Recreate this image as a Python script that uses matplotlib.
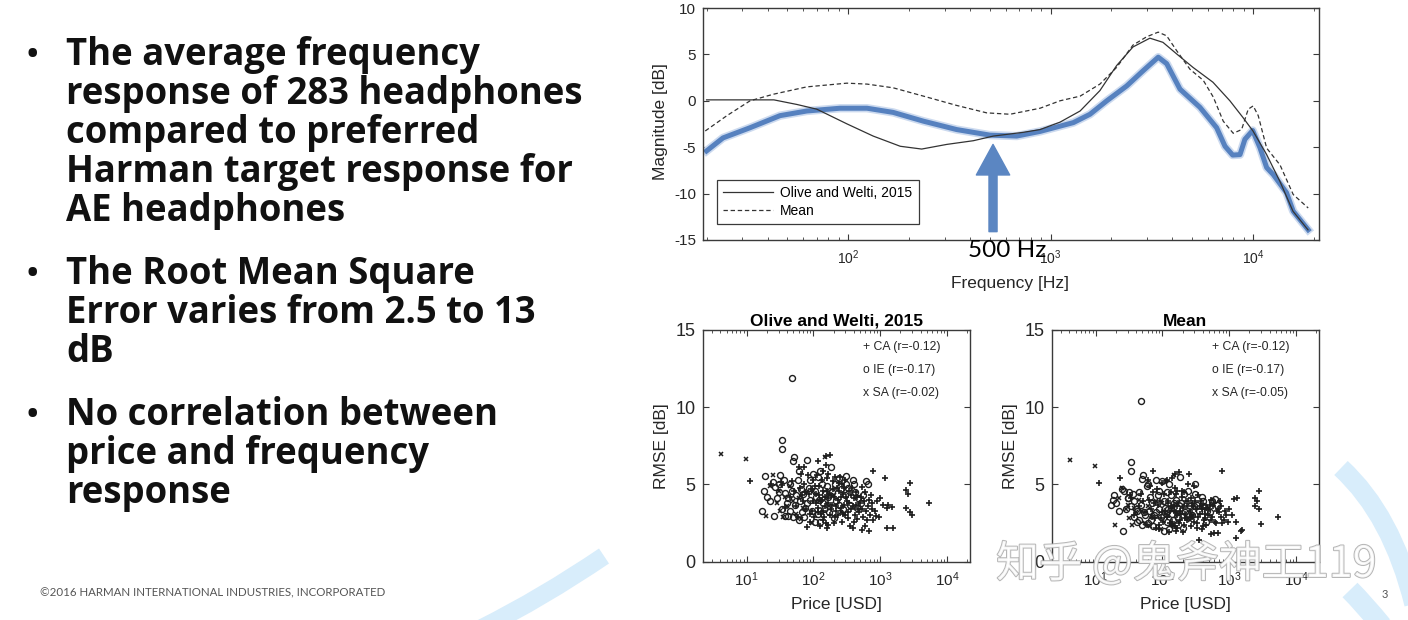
import numpy as np
import matplotlib
matplotlib.use('Agg')
import matplotlib.pyplot as plt
import matplotlib.patheffects as pe
from matplotlib.path import Path
from matplotlib.patches import PathPatch
from matplotlib.ticker import LogLocator, NullFormatter

plt.rcParams['font.family'] = ['Liberation Sans', 'DejaVu Sans']
plt.rcParams['mathtext.fontset'] = 'custom'
plt.rcParams['mathtext.rm'] = 'Liberation Sans'
plt.rcParams['mathtext.it'] = 'Liberation Sans:italic'
plt.rcParams['mathtext.bf'] = 'Liberation Sans:bold'
plt.rcParams['axes.unicode_minus'] = False

# ---- frequency responses (Hz, dB) ----
ow_freq = [20, 43, 56, 70, 99, 133, 181, 231, 307, 416, 522, 731, 888, 1114, 1400,
           1754, 2122, 2554, 3097, 3593, 4200, 5057, 6346, 7694, 8926, 10000, 11690,
           13600, 15770, 18700]
ow_db = [0.1, 0.1, -0.4, -0.9, -2.5, -3.8, -4.9, -5.2, -4.7, -4.3, -3.8, -3.4, -3.1,
         -2.3, -1.1, 1.1, 3.8, 5.8, 6.75, 6.3, 5.05, 3.6, 2.0, 0.0, -1.8, -3.25, -5.8,
         -8.7, -11.9, -13.9]

mean_freq = [19.7, 25.2, 32.8, 42.6, 62.5, 98.6, 124, 167, 236, 344, 484, 631, 888,
             1114, 1400, 1754, 2122, 2554, 2985, 3405, 3749, 4200, 4886, 5686, 6370,
             7134, 7993, 8790, 9480, 10030, 10620, 11690, 13600, 15810, 18750]
mean_db = [-3.25, -1.6, 0.0, 0.7, 1.5, 1.9, 1.8, 1.4, 0.5, -0.5, -1.3, -1.45, -0.8,
           0.0, 0.5, 1.8, 3.6, 6.0, 6.9, 7.4, 7.0, 5.4, 3.4, 2.2, 0.4, -2.2, -3.5,
           -3.1, -0.9, -0.55, -1.6, -5.1, -6.9, -10.1, -11.55]

avg_freq = [20, 24.1, 32.8, 46.1, 62.5, 91.3, 124, 167, 236, 344, 502, 681, 888, 1297,
            1567, 1897, 2379, 2871, 3405, 3749, 4363, 5470, 6617, 7278, 7940, 8630,
            9126, 9970, 10830, 11690, 12600, 14650, 15810, 18750]
avg_db = [-5.4, -4.0, -2.9, -1.6, -1.1, -0.8, -0.8, -1.25, -2.2, -3.1, -3.7, -3.8, -3.3,
          -2.35, -1.45, 0.0, 1.6, 3.25, 4.7, 4.0, 1.25, -0.7, -2.9, -4.9, -5.85, -5.8,
          -4.15, -3.2, -5.05, -7.2, -7.95, -9.9, -11.9, -13.9]

# ---- price vs RMSE, per headphone type (USD, dB vs Olive&Welti, dB vs Mean) ----
ca_price = [11.2, 23, 33, 34, 45, 55, 60, 62, 66, 70, 73, 75, 79, 85, 88, 90, 95, 100,
            105, 110, 115, 115, 120, 125, 130, 135, 140, 140, 141, 145, 150, 154, 154,
            161, 161, 165, 167, 167, 177, 180, 185, 195, 200, 210, 211, 220, 230, 240,
            245, 250, 260, 270, 280, 290, 300, 300, 320, 330, 340, 353, 360, 370, 395,
            400, 420, 430, 446, 446, 480, 500, 528, 528, 560, 594, 594, 620, 650, 667,
            700, 720, 760, 790, 791, 840, 870, 1000, 1110, 1185, 1250, 1250, 1320, 1490,
            1540, 2390, 2430, 2570, 2750, 2820, 2980, 5370,
            38, 48, 52, 58, 68, 72, 78, 82, 92, 98, 102, 108, 112, 118, 122, 128, 132,
            138, 148, 152, 158, 163, 172, 175, 190, 198, 205, 215, 225, 235, 255, 265,
            275, 285, 310, 325, 345, 375, 390, 410, 440, 460, 510, 540, 580, 630, 680,
            740, 880, 950]
ca_rmse_ow = [5.2, 5.0, 5.18, 4.95, 4.2, 3.6, 6.1, 4.8, 5.7, 3.9, 6.15, 4.5, 2.25, 4.4,
              3.1, 2.6, 3.3, 5.3, 4.9, 3.8, 6.5, 3.5, 4.3, 2.3, 3.1, 4.0, 4.6, 5.9, 2.7,
              2.9, 3.6, 6.85, 6.25, 5.4, 2.15, 4.1, 5.7, 2.4, 6.9, 3.4, 4.3, 4.7, 2.5,
              2.9, 5.5, 3.3, 4.0, 5.1, 4.6, 5.5, 3.5, 2.6, 4.4, 3.7, 3.0, 5.3, 3.9, 3.2,
              4.6, 2.3, 4.3, 3.4, 2.15, 4.1, 3.0, 3.7, 4.2, 2.75, 3.2, 3.8, 4.85, 2.05,
              2.9, 4.5, 2.3, 3.3, 3.6, 2.0, 3.0, 4.3, 3.8, 2.7, 5.85, 3.25, 2.95, 4.1,
              3.65, 5.4, 3.45, 2.15, 3.65, 3.55, 2.2, 3.5, 4.65, 4.4, 5.1, 3.2, 3.0, 3.82,
              3.5, 5.2, 4.6, 2.9, 4.3, 5.0, 3.4, 5.6, 4.7, 3.9, 2.9, 4.4, 5.6, 3.2, 4.9,
              3.9, 5.3, 3.3, 4.2, 2.5, 4.6, 3.8, 4.4, 3.0, 3.7, 5.2, 4.2, 3.6, 4.8, 3.0,
              4.2, 5.0, 3.1, 4.8, 4.2, 2.8, 3.8, 4.8, 3.6, 2.6, 4.5, 3.4, 4.2, 3.4, 3.9,
              2.7, 4.0, 3.4, 3.9, 2.9]
ca_rmse_mean = [5.07, 5.45, 4.3, 4.1, 3.6, 3.2, 5.3, 4.0, 4.9, 2.9, 5.9, 3.8, 2.15, 3.7,
                2.4, 2.1, 2.8, 5.1, 4.4, 3.1, 5.3, 2.9, 3.9, 1.9, 2.5, 3.6, 3.5, 5.4,
                2.6, 2.3, 3.3, 5.7, 4.8, 4.4, 2.0, 3.0, 4.6, 2.2, 5.8, 2.7, 3.3, 4.2,
                1.9, 2.4, 4.5, 3.1, 3.6, 5.0, 3.9, 5.7, 2.9, 2.3, 3.8, 3.0, 2.6, 4.9,
                3.4, 2.2, 4.3, 1.4, 3.6, 3.1, 2.1, 3.7, 2.7, 2.8, 3.5, 2.4, 3.0, 3.4,
                4.0, 1.8, 2.9, 3.8, 1.85, 2.6, 3.3, 1.85, 3.2, 3.9, 3.6, 2.5, 5.85, 2.7,
                3.3, 3.4, 3.0, 4.05, 2.6, 1.55, 4.15, 2.0, 2.05, 3.6, 4.1, 3.95, 4.55,
                3.4, 2.45, 2.9,
                3.0, 4.4, 3.9, 2.4, 3.4, 4.5, 2.8, 4.7, 3.9, 3.2, 2.6, 3.3, 5.2, 2.9,
                3.8, 3.3, 4.5, 2.4, 3.7, 2.3, 3.2, 3.6, 3.8, 2.5, 3.1, 4.6, 3.5, 2.8,
                3.9, 2.7, 3.3, 4.1, 2.9, 3.6, 3.9, 2.5, 2.9, 3.9, 3.4, 2.3, 3.1, 3.5,
                3.7, 2.7, 3.6, 2.5, 3.4, 2.9, 3.0, 2.6]

ie_price = [17, 18.2, 19, 25, 26, 26.5, 30, 31, 33.5, 34.2, 34.2, 37.5, 37.5, 40, 42,
            42, 45, 48, 50, 50, 51, 55, 58, 61, 65, 68, 75, 79, 85, 90, 100, 106, 110,
            118, 126, 126, 140, 150, 160, 170, 182, 200, 220, 237, 260, 280, 308, 308,
            350, 388, 406, 450, 470, 560, 615, 644,
            20, 22, 28, 32, 36, 44, 47, 53, 60, 63, 70, 72, 80, 88, 95, 105, 115, 122,
            135, 145, 165, 190, 210, 245, 300, 330, 420, 520]
ie_rmse_ow = [3.3, 4.6, 5.55, 5.18, 2.95, 4.86, 5.05, 4.5, 3.4, 7.85, 7.3, 2.96, 4.45,
              3.8, 2.95, 4.1, 5.0, 11.9, 2.88, 6.55, 6.8, 4.3, 5.3, 2.7, 4.7, 3.2, 3.5,
              6.6, 4.8, 4.0, 5.7, 2.6, 4.2, 5.5, 5.85, 2.6, 3.8, 4.4, 4.9, 3.2, 6.1,
              2.8, 3.9, 5.45, 4.7, 3.4, 5.55, 5.05, 3.7, 5.3, 5.05, 3.5, 4.1, 4.3, 5.25,
              5.05,
              4.2, 3.9, 4.1, 5.6, 5.3, 3.3, 4.6, 3.7, 5.9, 3.9, 4.4, 2.9, 3.8, 5.3, 3.3,
              4.6, 3.1, 4.0, 5.0, 3.4, 4.2, 4.5, 5.0, 3.7, 4.3, 4.8, 4.5, 3.8]
ie_rmse_mean = [3.7, 4.0, 4.35, 4.7, 2.0, 4.6, 4.1, 4.1, 3.6, 6.45, 5.85, 2.9, 3.9, 3.4,
                2.6, 3.3, 4.5, 10.4, 2.4, 5.35, 5.6, 3.0, 4.9, 2.5, 4.2, 2.7, 3.0, 5.3,
                4.3, 3.4, 5.2, 2.0, 3.5, 4.5, 5.0, 2.1, 3.1, 3.8, 4.0, 2.8, 5.5, 2.2,
                3.2, 4.6, 3.6, 3.0, 5.0, 4.4, 3.3, 4.2, 3.9, 2.6, 3.3, 3.9, 4.05, 3.7,
                3.8, 3.3, 3.4, 4.5, 4.4, 2.7, 3.7, 3.2, 5.0, 3.3, 3.8, 2.3, 3.2, 4.6,
                2.9, 3.9, 2.6, 3.4, 4.3, 2.7, 3.5, 3.8, 4.4, 3.1, 3.6, 3.7, 3.6, 3.2]

sa_price = [4.2, 9.7, 19.5, 25, 28, 30, 35, 40, 45, 55, 65, 80, 95, 120, 150, 200, 260,
            22, 32, 38, 50, 60, 70, 100, 170]
sa_rmse_ow = [6.95, 6.65, 2.95, 5.6, 3.8, 4.6, 2.9, 3.6, 4.9, 3.1, 2.75, 4.5, 2.5, 3.9,
              6.8, 4.3, 3.2, 4.9, 3.3, 4.2, 3.9, 4.1, 3.5, 4.6, 3.6]
sa_rmse_mean = [6.6, 6.2, 2.38, 4.8, 3.4, 3.7, 2.35, 3.2, 4.0, 2.5, 2.3, 3.9, 2.1, 3.0,
                5.6, 3.7, 2.7, 4.1, 2.8, 3.5, 3.3, 3.6, 2.9, 3.8, 3.1]

ow_labels = ['+ CA (r=-0.12)', 'o IE (r=-0.17)', 'x SA (r=-0.02)']
mean_labels = ['+ CA (r=-0.12)', 'o IE (r=-0.17)', 'x SA (r=-0.05)']

bullets = [
    ['The average frequency', 'response of 283 headphones', 'compared to preferred',
     'Harman target response for', 'AE headphones'],
    ['The Root Mean Square', 'Error varies from 2.5 to 13', 'dB'],
    ['No correlation between', 'price and frequency', 'response'],
]
bullet_baselines = [65, 284, 425]

W, H = 1408, 620
fig = plt.figure(figsize=(W / 100, H / 100), dpi=100)
fig.patch.set_facecolor('white')


def fx(x):
    return x / W


def fy(y):
    return 1 - y / H


# background swooshes
bg = fig.add_axes([0, 0, 1, 1], zorder=-5)
bg.set_xlim(0, W)
bg.set_ylim(H, 0)
bg.axis('off')
swoosh = '#d8edfb'
for verts, lw in [([(482, 628), (542, 598), (604, 556)], 13),
                  ([(1341, 468), (1392, 515), (1414, 604)], 14),
                  ([(1350, 590), (1364, 604), (1382, 626)], 15)]:
    p = Path(verts, [Path.MOVETO, Path.CURVE3, Path.CURVE3])
    bg.add_patch(PathPatch(p, fill=False, edgecolor=swoosh, lw=lw, capstyle='butt'))

# left bullet text
for lines, base in zip(bullets, bullet_baselines):
    fig.text(fx(26), fy(base - 2), '\u2022', fontsize=22, fontweight='bold',
             family='Open Sans', va='baseline', color='#111111')
    for i, line in enumerate(lines):
        fig.text(fx(66), fy(base + 39 * i), line, fontsize=26.3, fontweight='bold',
                 family='Open Sans', va='baseline', color='#111111')

fig.text(fx(40), fy(593), '\u00a92016 HARMAN INTERNATIONAL INDUSTRIES, INCORPORATED',
         fontsize=8.25, family='Lato', color='#555555', va='center')
fig.text(fx(1385), fy(594), '3', fontsize=8, family='Lato', color='#555555',
         va='center', ha='center')

axis_col = '#3a3a3a'


def matlab_style(ax, ysize, xsize):
    for s in ax.spines.values():
        s.set_color(axis_col)
        s.set_linewidth(1.0)
    ax.tick_params(which='both', direction='in', top=True, right=True, colors=axis_col)
    ax.tick_params(which='major', length=4.5)
    ax.tick_params(which='minor', length=2.2)
    ax.tick_params(axis='y', labelsize=ysize, pad=5, labelcolor='#262626')
    ax.tick_params(axis='x', labelsize=xsize, pad=6, labelcolor='#262626')
    ax.xaxis.set_minor_locator(LogLocator(base=10, subs=np.arange(2, 10)))
    ax.xaxis.set_minor_formatter(NullFormatter())


# ---- top: frequency response ----
ax = fig.add_axes([fx(703), fy(240), (1319 - 703) / W, (240 - 8) / H])
ax.set_xscale('log')
ax.plot(avg_freq, avg_db, color='#5681bf', lw=3.6, solid_joinstyle='round',
        path_effects=[pe.Stroke(linewidth=6.0, foreground='#ccdaef'), pe.Normal()])
ax.plot(ow_freq, ow_db, color='#333333', lw=0.9, label='Olive and Welti, 2015')
ax.plot(mean_freq, mean_db, color='#333333', lw=0.9, ls=(0, (3.5, 2.2)), label='Mean')
ax.set_xlim(19.2, 21200)
ax.set_ylim(-15, 10)
ax.set_yticks([-15, -10, -5, 0, 5, 10])
ax.set_xticks([100, 1000, 10000])
matlab_style(ax, 11, 10)
leg = ax.legend(loc='lower left', bbox_to_anchor=(0.0227, 0.069), borderaxespad=0,
                fontsize=10, handlelength=3.6, fancybox=False, framealpha=1,
                edgecolor=axis_col, borderpad=0.45, labelspacing=0.25, handletextpad=0.5)
leg.get_frame().set_linewidth(0.9)
ax.annotate('', xy=(520, -4.7), xytext=(520, -14.1),
            arrowprops=dict(width=5.8, headwidth=24, headlength=22, color='#5b86c2',
                            shrink=0))
fig.text(fx(660), fy(122), 'Magnitude [dB]', rotation=90, ha='center', va='center',
         fontsize=12.5, color='#262626')
fig.text(fx(1010), fy(283), 'Frequency [Hz]', ha='center', va='center',
         fontsize=12.5, color='#262626')
fig.text(fx(1007), fy(251), '500 Hz', ha='center', va='center', fontsize=17.5,
         family='Lato', color='black')

# ---- bottom: price vs RMSE ----
panels = [
    (702.7, 'Olive and Welti, 2015', ca_rmse_ow, ie_rmse_ow, sa_rmse_ow, ow_labels),
    (1051.7, 'Mean', ca_rmse_mean, ie_rmse_mean, sa_rmse_mean, mean_labels),
]
mk = '#1e1e1e'
for left, title, ca_r, ie_r, sa_r, labels in panels:
    bx = fig.add_axes([fx(left), fy(561.7), 267.3 / W, (561.7 - 330) / H])
    bx.set_xscale('log')
    bx.plot(ca_price, ca_r, ls='none', marker='+', ms=4.6, mew=1.2, color=mk)
    bx.plot(ie_price, ie_r, ls='none', marker='o', ms=4.3, mew=1.0, mfc='none', mec=mk)
    bx.plot(sa_price, sa_r, ls='none', marker='x', ms=3.4, mew=1.1, color=mk)
    bx.set_xlim(2.2, 22000)
    bx.set_ylim(0, 15)
    bx.set_yticks([0, 5, 10, 15])
    bx.set_xticks([10, 100, 1000, 10000])
    matlab_style(bx, 13, 11)
    bx.set_title(title, fontsize=12.5, fontweight='bold', pad=3)
    for j, lab in enumerate(labels):
        bx.text(0.6, 0.927 - 0.1 * j, lab, transform=bx.transAxes, va='center',
                fontsize=8.8, color='#262626')
    cx = left + 267.3 / 2
    fig.text(fx(left - 41), fy(446), 'RMSE [dB]', rotation=90, ha='center',
             va='center', fontsize=12.5, color='#262626')
    fig.text(fx(cx), fy(604), 'Price [USD]', ha='center', va='center',
             fontsize=12.5, color='#262626')

# watermark
fig.text(fx(1186), fy(565), '知乎 @鬼斧神工119', ha='center', va='center', fontsize=31,
         family=['Noto Sans CJK SC', 'DejaVu Sans'], color='white', alpha=0.85,
         path_effects=[pe.withStroke(linewidth=1.4, foreground='#a8a8a8')])

fig.savefig('out.png', dpi=100)
